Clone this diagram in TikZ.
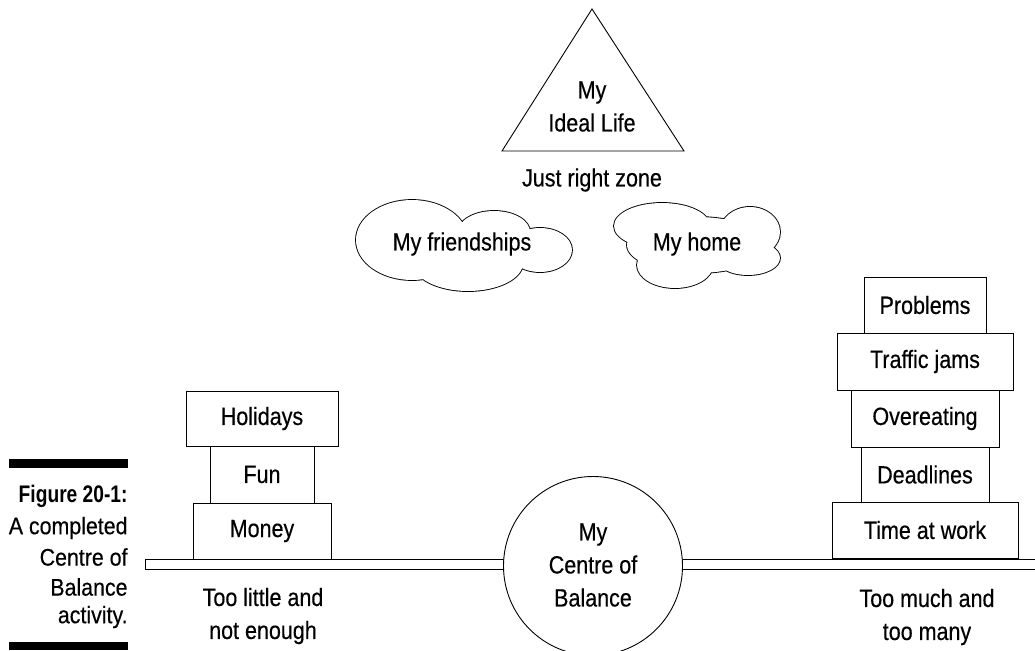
\documentclass[tikz,border=0pt]{standalone}
\usepackage{fontspec}
\setmainfont{Liberation Sans}[FakeStretch=0.86,FakeBold=0.35]
\newfontfamily\capreg{Liberation Sans}[FakeStretch=0.89,FakeBold=0.35]
\newfontfamily\boldcond{Liberation Sans}[FakeStretch=0.80]
\begin{document}
\begin{tikzpicture}[x=1pt,y=-1pt,line width=0.9pt,
  every node/.style={font=\fontsize{25}{33}\selectfont},
  blk/.style={draw,fill=white,inner sep=0pt,align=center},
  lbl/.style={align=center,inner sep=0pt},
  captxt/.style={anchor=east,inner sep=0pt,font=\fontsize{24}{28}\capreg}]
\useasboundingbox (0,0) rectangle (1035,650);
\clip (0,0) rectangle (1035,650);
% caption
\fill (9,459) rectangle (128,468);
\fill (9,642) rectangle (128,650);
\node[captxt,font=\fontsize{24}{28}\boldcond\bfseries] (fig) at (128,496) {Figure 20-1:};
\node[captxt] (c1) at (128,528) {A completed};
\node[captxt] (c2) at (128,557) {Centre of};
\node[captxt] (c3) at (128,587) {Balance};
\node[captxt] (c4) at (128,617) {activity.};
% triangle
\draw (592,9) -- (684,151) -- (502,151) -- cycle;
\node[lbl] (ideal) at (592,106.5) {My\\Ideal Life};
\node[lbl] (zone) at (592,180) {Just right zone};
% cloud: friendships
\draw[line width=1.8pt]
  (412,240) ellipse [x radius=56pt, y radius=40pt]
  (494,232) ellipse [x radius=36pt, y radius=21pt]
  (540,250) ellipse [x radius=32pt, y radius=22pt]
  (468,263) ellipse [x radius=55pt, y radius=28pt]
  (465,248) ellipse [x radius=92pt, y radius=22pt];
\fill[white]
  (412,240) ellipse [x radius=56pt, y radius=40pt]
  (494,232) ellipse [x radius=36pt, y radius=21pt]
  (540,250) ellipse [x radius=32pt, y radius=22pt]
  (468,263) ellipse [x radius=55pt, y radius=28pt]
  (465,248) ellipse [x radius=92pt, y radius=22pt];
\node[lbl] (friend) at (462,244) {My friendships};
% cloud: home
\draw[line width=1.8pt]
  (662,226) ellipse [x radius=48pt, y radius=23pt]
  (750,232) ellipse [x radius=30pt, y radius=25pt]
  (675,265) ellipse [x radius=38pt, y radius=23pt]
  (748,258) ellipse [x radius=32pt, y radius=17pt]
  (697,245) ellipse [x radius=70pt, y radius=28pt];
\fill[white]
  (662,226) ellipse [x radius=48pt, y radius=23pt]
  (750,232) ellipse [x radius=30pt, y radius=25pt]
  (675,265) ellipse [x radius=38pt, y radius=23pt]
  (748,258) ellipse [x radius=32pt, y radius=17pt]
  (697,245) ellipse [x radius=70pt, y radius=28pt];
\node[lbl] (home) at (697,244) {My home};
% bar
\draw (145,559) rectangle (1040,569);
\node[draw,circle,fill=white,minimum size=179pt,inner sep=0pt,align=center] (centre) at (593,566) {};
\node[lbl] (centretxt) at (593,565) {My\\Centre of\\Balance};
% left blocks
\node[blk,minimum width=152pt,minimum height=55pt] (hol) at (262,418.5) {Holidays};
\node[blk,minimum width=104pt,minimum height=57pt] (fun) at (262,474.5) {Fun};
\node[blk,minimum width=138pt,minimum height=56pt] (money) at (262,531) {Money};
% right blocks
\node[blk,minimum width=122pt,minimum height=56pt] (prob) at (925,305) {Problems};
\node[blk,minimum width=176pt,minimum height=57pt] (traf) at (925,361.5) {Traffic jams};
\node[blk,minimum width=148pt,minimum height=57pt] (over) at (925,418.5) {Overeating};
\node[blk,minimum width=128pt,minimum height=55pt] (dead) at (925,474.5) {Deadlines};
\node[blk,minimum width=186pt,minimum height=56pt] (time) at (925,530) {Time at work};
% bottom labels
\node[lbl] (little) at (263,616) {Too little and\\not enough};
\node[lbl] (much) at (927,617) {Too much and\\too many};
\end{tikzpicture}
\end{document}
